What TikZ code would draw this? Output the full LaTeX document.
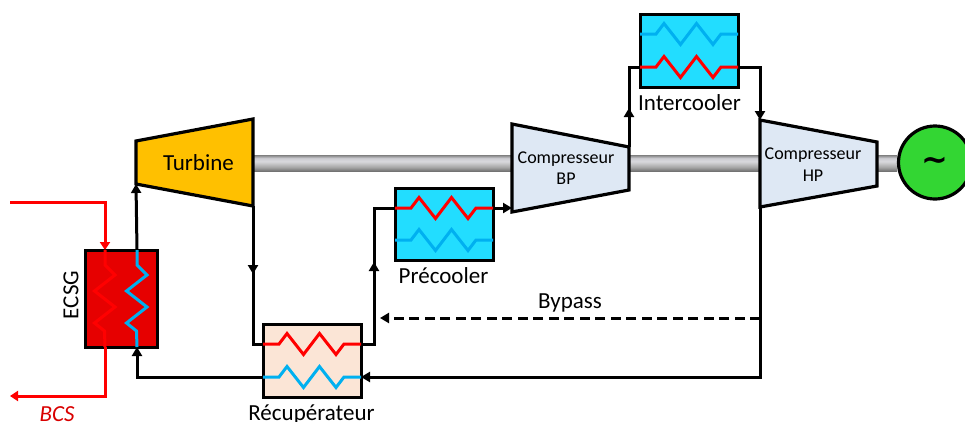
\documentclass[tikz,border=0pt]{standalone}
\usepackage{fontspec}
\setmainfont{Carlito}
\newfontfamily\tildefont{DejaVu Sans}
\usetikzlibrary{arrows.meta}
\definecolor{hot}{HTML}{FF0000}
\definecolor{cold}{HTML}{00B0F0}
\definecolor{coolfill}{HTML}{22DDFF}
\definecolor{recupfill}{HTML}{FBE5D6}
\definecolor{ecsgfill}{HTML}{E60000}
\definecolor{turbfill}{HTML}{FFC000}
\definecolor{compfill}{HTML}{DEE8F4}
\definecolor{genfill}{HTML}{33D633}
\pgfdeclareverticalshading{shaftgrad}{100bp}{
color(0bp)=(black!55); color(25bp)=(black!55); color(37bp)=(black!35); color(55bp)=(blue!10!black!15);
color(65bp)=(blue!10!black!20); color(75bp)=(black!50); color(100bp)=(black!50)}
\newcommand{\hzig}[3]{\draw[coil,#1] (#2) -- ++(16,0) -- ++(8,-10.5) -- ++(16.5,21) -- ++(16,-21) -- ++(16.5,21) -- ++(8,-10.5) -- (#3);}
\newcommand{\vzig}[3]{\draw[coil,#1] (#2) -- ++(0,15) -- ++(10,10) -- ++(-20.5,16) -- ++(20.5,16) -- ++(-20.5,16) -- ++(10,8) -- (#3);}
\begin{document}
\begin{tikzpicture}
[x=1pt,y=-1pt,
hx/.style={draw,line width=3pt,inner sep=0pt,outer sep=0pt},
coil/.style={line width=3pt},
machine/.style={draw,line width=3.2pt,line join=miter},
pipe/.style={line width=3pt,line join=miter},
flow/.style={pipe,-{Triangle[length=9pt,width=10pt]}},
thin flow/.style={line width=3pt,line join=miter,-{Triangle[length=8pt,width=10pt]}},
bigtxt/.style={font=\fontsize{23}{26}\selectfont,inner sep=0pt},
smalltxt/.style={font=\fontsize{18}{21.5}\selectfont,inner sep=0pt,align=center}]
\useasboundingbox (0,0) rectangle (965,421);
% shaft
\shade[shading=shaftgrad] (253,155) rectangle (897,171);
% machines
\coordinate (turbIn) at (136,184);
\coordinate (turbOut) at (253,206);
\draw[machine,fill=turbfill] (136,141) -- (253,119) -- (turbOut) -- (turbIn) -- cycle;
\coordinate (bpIn) at (512,208);
\coordinate (bpOut) at (629,147);
\draw[machine,fill=compfill] (512,124) -- (bpOut) -- (629,190) -- (512,212) -- cycle;
\coordinate (hpIn) at (760,120);
\coordinate (hpOut) at (760,207);
\draw[machine,fill=compfill] (hpIn) -- (877,142) -- (877,186) -- (hpOut) -- cycle;
\node[circle,draw,line width=3.2pt,fill=genfill,minimum size=73pt,inner sep=0pt] (gen) at (935,162.5) {};
\node[font=\tildefont\bfseries\fontsize{32}{32}\selectfont,inner sep=0pt] (tilde) at (935,164) {\char`\~};
\node[bigtxt] (turbTxt) at (198.5,163) {Turbine};
\node[smalltxt] (bpTxt) at (566,168) {Compresseur\\BP};
\node[smalltxt] (hpTxt) at (813,164.5) {Compresseur\\HP};
% exchangers
\node[hx,fill=ecsgfill,minimum width=72pt,minimum height=97pt] (ecsg) at (121,298.5) {};
\node[hx,fill=recupfill,minimum width=98pt,minimum height=73pt] (recup) at (312,360.5) {};
\node[hx,fill=coolfill,minimum width=98pt,minimum height=72pt] (pre) at (444,224) {};
\node[hx,fill=coolfill,minimum width=98pt,minimum height=73pt] (inter) at (689,50.5) {};
\coordinate (ecsgHotA) at (105,250);
\coordinate (ecsgHotB) at (105,347);
\coordinate (ecsgColdA) at (137,250);
\coordinate (ecsgColdB) at (137,347);
\coordinate (recHotA) at (263,344);
\coordinate (recHotB) at (361,344);
\coordinate (recColdA) at (263,377);
\coordinate (recColdB) at (361,377);
\coordinate (preHotA) at (395,208);
\coordinate (preHotB) at (493,208);
\coordinate (preColdA) at (395,240);
\coordinate (preColdB) at (493,240);
\coordinate (intHotA) at (640,67);
\coordinate (intHotB) at (738,67);
\coordinate (intColdA) at (640,34);
\coordinate (intColdB) at (738,34);
% free ends and arrow points
\coordinate (bcsIn) at (10,202);
\coordinate (bcsOut) at (10,396);
\coordinate (turbMid) at (253,274);
\coordinate (recMid) at (374,262);
\coordinate (bpMid) at (629,108);
\coordinate (bypassA) at (760,318);
\coordinate (bypassB) at (380,318);
% loop
\draw[flow] (ecsgColdA) -- (turbIn);
\draw[pipe] (turbOut) -- (253,344) -- (recHotA);
\draw[flow] (turbOut) -- (turbMid);
\draw[pipe] (recHotB) -- (374,344) -- (374,208) -- (preHotA);
\draw[flow] (374,344) -- (recMid);
\draw[flow] (preHotB) -- (bpIn);
\draw[pipe] (bpOut) -- (629,67) -- (intHotA);
\draw[flow] (bpOut) -- (bpMid);
\draw[flow] (intHotB) -- (760,67) -- (hpIn);
\draw[flow] (hpOut) -- (760,377) -- (recColdB);
\draw[flow] (recColdA) -- (137,377) -- (ecsgColdB);
\draw[flow,dashed,dash pattern=on 10pt off 5.5pt] (bypassA) -- (bypassB);
% BCS side
\draw[thin flow,hot] (bcsIn) -- (105,202) -- (ecsgHotA);
\draw[thin flow,hot] (ecsgHotB) -- (105,396) -- (bcsOut);
% coils
\vzig{hot}{ecsgHotA}{ecsgHotB}
\vzig{cold}{ecsgColdA}{ecsgColdB}
\hzig{hot}{recHotA}{recHotB}
\hzig{cold}{recColdA}{recColdB}
\hzig{hot}{preHotA}{preHotB}
\hzig{cold}{preColdA}{preColdB}
\hzig{cold}{intColdA}{intColdB}
\hzig{hot}{intHotA}{intHotB}
% labels
\node[bigtxt,rotate=90] (ecsgTxt) at (71,295) {ECSG};
\node[bigtxt,anchor=base] (recTxt) at (311.5,420.5) {Récupérateur};
\node[bigtxt] (preTxt) at (443.5,276) {Précooler};
\node[bigtxt] (intTxt) at (689.5,103) {Intercooler};
\node[bigtxt] (bypassTxt) at (570,303) {Bypass};
\node[bigtxt,anchor=base,font=\fontsize{23}{26}\itshape\selectfont,text=hot!85!black] (bcsTxt) at (57,421) {BCS};
\end{tikzpicture}
\end{document}
